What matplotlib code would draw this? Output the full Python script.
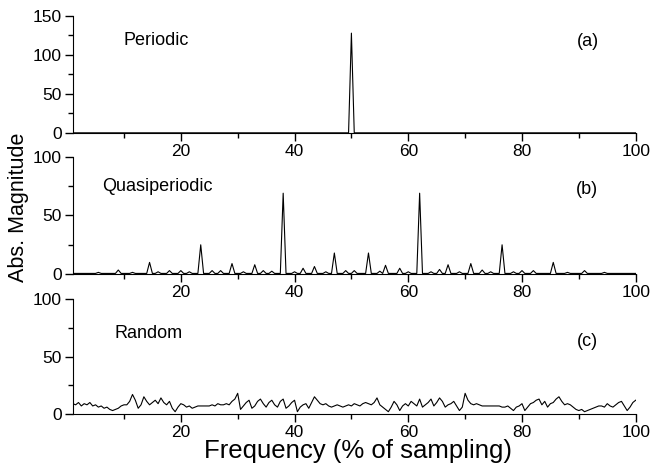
import matplotlib
matplotlib.use("Agg")
import matplotlib.pyplot as plt
import numpy as np

plt.rcParams['font.family'] = ['Liberation Sans', 'DejaVu Sans']

# frequency grid, % of sampling
freq = np.arange(0.5, 100.01, 0.5)

# (a) periodic: one spike
periodic_pos = [50.0]
periodic_height = [128]

# (b) quasiperiodic peaks
qp_pos = [5.5, 9.0, 11.5, 14.5, 16.0, 18.0, 20.0, 21.5, 23.5, 25.5, 27.0, 29.0, 31.0,
          33.0, 34.5, 36.0, 38.0, 40.0, 41.5, 43.5, 45.5, 47.0, 49.0, 50.5, 53.0, 55.0,
          56.0, 58.5, 60.0, 62.0, 64.0, 65.5, 67.0, 69.0, 71.0, 73.0, 74.5, 76.5, 78.5,
          80.0, 82.0, 85.5, 88.0, 91.0, 94.5]
qp_height = [1.5, 3.5, 1.5, 10, 2, 3, 3, 2, 25, 3, 3, 9, 2,
             8, 3, 2.5, 69, 2, 5, 6.5, 2, 18, 3, 3, 18, 2.5,
             7.5, 5, 2, 69, 2, 4, 8, 2, 9, 3.5, 2, 25, 2,
             3, 3, 10, 1.5, 3, 1.5]
qp_base = 0.6

# (c) random spectrum, one value per grid point
random_vals = [
    6, 9, 8, 10, 7, 9, 8, 10, 7, 8, 6, 7, 5, 6, 4, 3, 4, 5, 7, 8,
    8, 11, 17, 12, 5, 8, 15, 11, 8, 10, 12, 9, 14, 10, 8, 11, 5, 2, 6, 9,
    8, 6, 7, 5, 6, 7, 7, 7, 7, 7, 8, 7, 9, 8, 8, 9, 8, 11, 13, 18,
    4, 7, 10, 12, 5, 7, 11, 13, 9, 6, 10, 12, 8, 6, 11, 13, 5, 7, 10, 12,
    2, 6, 8, 9, 5, 10, 15, 12, 9, 8, 9, 7, 6, 7, 8, 7, 6, 7, 8, 7,
    9, 8, 7, 9, 10, 9, 8, 10, 14, 8, 6, 4, 2, 6, 11, 8, 3, 7, 9, 7,
    11, 9, 7, 13, 6, 8, 10, 13, 7, 10, 14, 11, 6, 8, 9, 11, 7, 3, 6, 18,
    12, 9, 8, 9, 8, 7, 7, 7, 7, 7, 7, 7, 6, 6, 7, 5, 3, 6, 7, 9,
    3, 6, 9, 10, 12, 13, 8, 11, 6, 9, 10, 13, 15, 11, 8, 9, 8, 6, 4, 3,
    4, 2, 3, 4, 5, 6, 7, 7, 6, 9, 7, 6, 8, 10, 11, 7, 3, 6, 10, 12,
]

periodic = np.zeros_like(freq)
for p, h in zip(periodic_pos, periodic_height):
    periodic[np.argmin(abs(freq - p))] = h

quasi = np.full_like(freq, qp_base)
for p, h in zip(qp_pos, qp_height):
    quasi[np.argmin(abs(freq - p))] = h

random_spec = np.array(random_vals, dtype=float)

fig = plt.figure(figsize=(6.5, 4.71), dpi=100)
left, width = 0.112, 0.866
boxes = [(0.718, 0.248), (0.418, 0.249), (0.121, 0.244)]
panels = [
    (periodic, 150, [0, 50, 100, 150], "Periodic", (10, 118), "(a)", (89.6, 117)),
    (quasi, 100, [0, 50, 100], "Quasiperiodic", (6.1, 75), "(b)", (89.5, 72)),
    (random_spec, 100, [0, 50, 100], "Random", (8.4, 70), "(c)", (89.6, 63)),
]

axes = []
for (bottom, height), (y, ymax, yt, name, npos, tag, tpos) in zip(boxes, panels):
    ax = fig.add_axes([left, bottom, width, height])
    ax.plot(freq, y, color="k", lw=0.8)
    ax.set_xlim(1, 100)
    ax.set_ylim(0, ymax)
    ax.set_yticks(yt)
    ax.set_yticks(np.arange(25, ymax, 50), minor=True)
    ax.set_xticks([20, 40, 60, 80, 100])
    ax.set_xticks([10, 30, 50, 70, 90], minor=True)
    ax.spines['top'].set_visible(False)
    ax.spines['right'].set_visible(False)
    ax.tick_params(which='major', direction='out', length=6, width=1, labelsize=12.5, pad=2)
    ax.tick_params(which='minor', direction='out', length=3.5, width=1)
    ax.text(npos[0], npos[1], name, fontsize=13, va='center', ha='left')
    ax.text(tpos[0], tpos[1], tag, fontsize=13, va='center', ha='left')
    axes.append(ax)

fig.text(0.028, 0.56, "Abs. Magnitude", rotation=90, fontsize=15.5, va='center', ha='center')
fig.text(0.55, 0.043, "Frequency (% of sampling)", fontsize=18.5, va='center', ha='center')

fig.savefig("out.png", dpi=100)
